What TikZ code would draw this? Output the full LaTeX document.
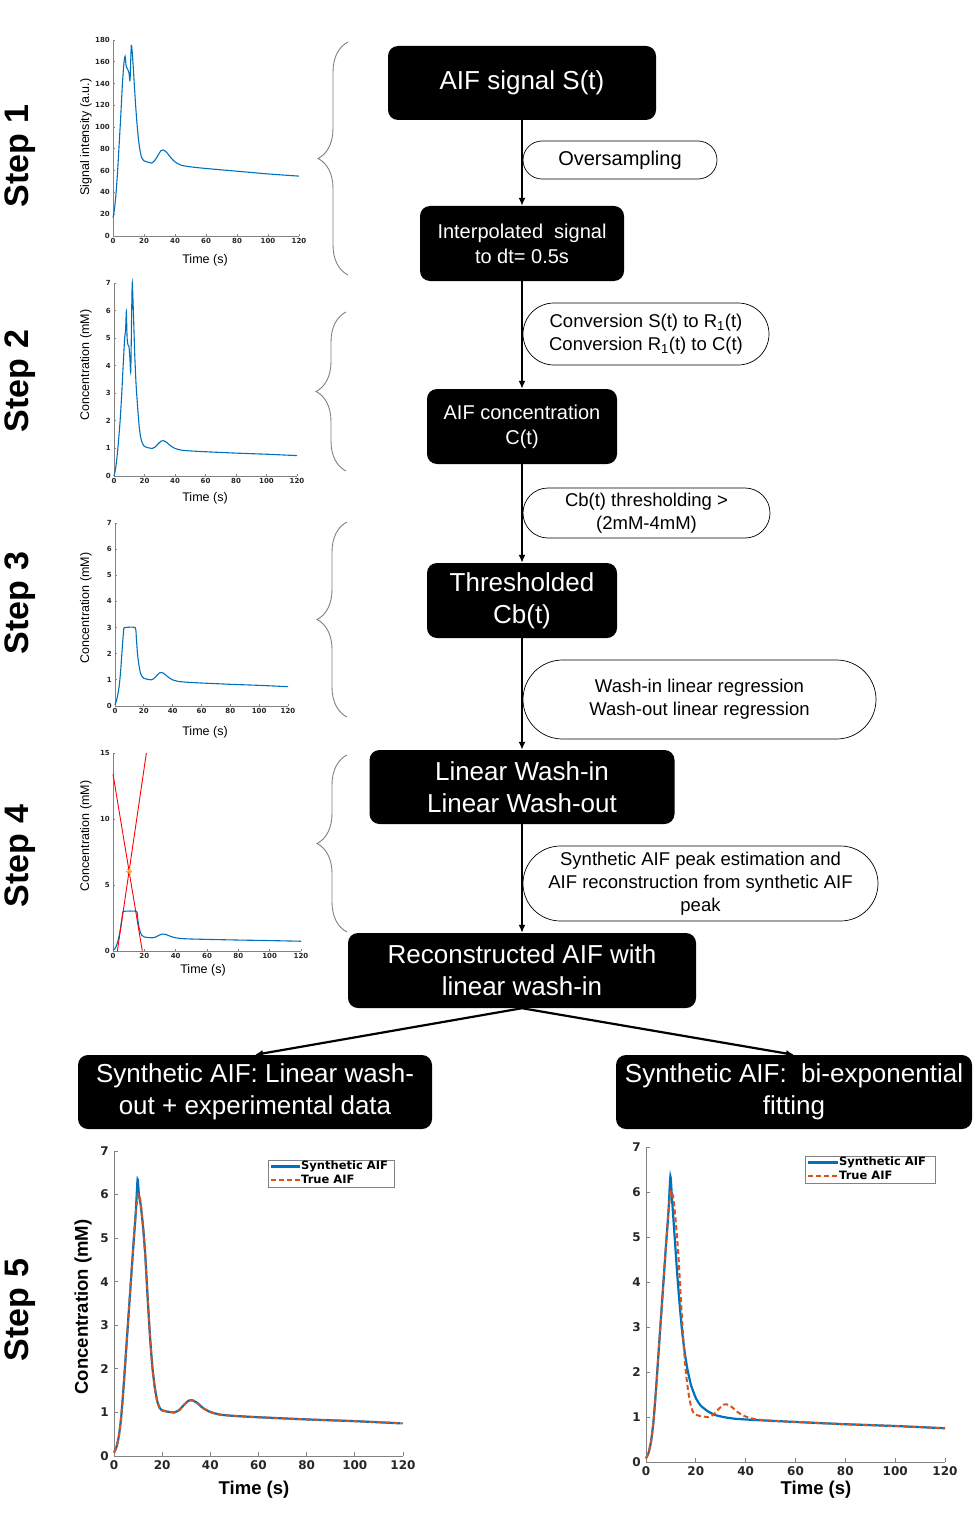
\documentclass[tikz,border=0pt]{standalone}
\usepackage{fontspec}
\setmainfont{Liberation Sans}
\newfontfamily\plotfont{DejaVu Sans}
\usepackage{tikz}
\usetikzlibrary{
    arrows.meta,
    shapes.misc,
    decorations.pathreplacing,
    positioning
}
\definecolor{matblue}{RGB}{0,114,189}
\definecolor{matorange}{RGB}{217,83,25}
\definecolor{matyellow}{RGB}{237,177,32}
\definecolor{axisgray}{RGB}{130,130,130}
\definecolor{ticktext}{RGB}{38,38,38}
\newcommand{\bigtext}{\fontsize{26}{32}\selectfont}
\newcommand{\midtext}{\fontsize{20}{25}\selectfont}
\newcommand{\notetext}{\fontsize{18.5}{23}\selectfont}

\begin{document}
\begin{tikzpicture}[x=1pt, y=-1pt,
    stagebox/.style={fill=black, text=white, rounded corners=10pt, align=center, inner sep=2pt},
    notebox/.style={draw=black, line width=0.7pt, fill=white, rounded rectangle, align=center, inner sep=1pt},
    flow/.style={line width=1.8pt, -{Latex[length=8pt, width=7pt]}},
    steplabel/.style={rotate=90, font=\fontsize{34}{40}\selectfont\bfseries},
    gbrace/.style={draw=gray, line width=0.9pt, decorate, decoration={brace, amplitude=30pt}},
    axisline/.style={draw=axisgray, line width=0.8pt},
    smalltick/.style={text=ticktext, inner sep=1pt, font=\plotfont\bfseries\fontsize{7}{8}\selectfont},
    bigtick/.style={text=ticktext, inner sep=1pt, font=\plotfont\bfseries\fontsize{12}{13}\selectfont},
    smalllabel/.style={inner sep=1pt, font=\fontsize{12.5}{14}\selectfont},
    biglabel/.style={inner sep=1pt, font=\fontsize{18.5}{20}\selectfont\bfseries},
    legendtext/.style={inner sep=1pt, anchor=west, font=\plotfont\bfseries\fontsize{11.5}{12}\selectfont},
    aifline/.style={draw=matblue, line width=1.1pt},
    synline/.style={draw=matblue, line width=2.2pt},
    trueline/.style={draw=matorange, line width=2pt, dash pattern=on 5pt off 3pt},
    washline/.style={draw=red, line width=0.9pt},
    starline/.style={draw=matyellow, line width=0.9pt}
]
\useasboundingbox (0,0) rectangle (978,1514);

% step labels
\node[steplabel] (lab1) at (20,156) {Step 1};
\node[steplabel] (lab2) at (20,381) {Step 2};
\node[steplabel] (lab3) at (20,603) {Step 3};
\node[steplabel] (lab4) at (20,856) {Step 4};
\node[steplabel] (lab5) at (20,1310) {Step 5};

% braces
\draw[gbrace] (348,275) -- (348,42);
\draw[gbrace] (346,471) -- (346,312);
\draw[gbrace] (347,717) -- (347,522);
\draw[gbrace] (347,932) -- (347,755);

% flow chart
\node[stagebox, minimum width=268pt, minimum height=74pt, font=\bigtext] (sig) at (522,83) {AIF signal S(t)};
\node[stagebox, minimum width=204pt, minimum height=75pt, font=\midtext] (interp) at (522,243.5) {Interpolated\ \ signal\\to dt= 0.5s};
\node[stagebox, minimum width=190pt, minimum height=75pt, font=\midtext] (conc) at (522,426.5) {AIF concentration\\C(t)};
\node[stagebox, minimum width=190pt, minimum height=75pt, font=\bigtext] (thr) at (522,600.5) {Thresholded\\Cb(t)};
\node[stagebox, minimum width=305pt, minimum height=74pt, font=\bigtext] (lin) at (522,787) {Linear Wash-in\\Linear Wash-out};
\node[stagebox, minimum width=348pt, minimum height=75pt, font=\bigtext] (rec) at (522,970.5) {Reconstructed AIF with\\linear wash-in};
\node[stagebox, minimum width=354pt, minimum height=74pt, font=\bigtext] (synl) at (255,1092) {Synthetic AIF: Linear wash-\\out + experimental data};
\node[stagebox, minimum width=356pt, minimum height=74pt, font=\bigtext] (synr) at (794,1092) {Synthetic AIF:\ \ bi-exponential\\fitting};

\node[notebox, minimum width=196pt, minimum height=38pt, font=\fontsize{20}{24}\selectfont] (ovs) at (620,160) {Oversampling};
\node[notebox, minimum width=248pt, minimum height=62pt, font=\notetext] (cnv) at (646,334) {Conversion S(t) to R\textsubscript{1}(t)\\Conversion R\textsubscript{1}(t) to C(t)};
\node[notebox, minimum width=249pt, minimum height=50pt, font=\notetext] (thn) at (646.5,513) {Cb(t) thresholding >\\(2mM-4mM)};
\node[notebox, minimum width=355pt, minimum height=79pt, font=\notetext] (reg) at (699.5,699.5) {Wash-in linear regression\\Wash-out linear regression};
\node[notebox, minimum width=357pt, minimum height=75pt, font=\notetext] (pk) at (700.5,883.5) {Synthetic AIF peak estimation and\\AIF reconstruction from synthetic AIF\\peak};

\draw[flow] (sig.south) -- (interp.north);
\draw[flow] (interp.south) -- (conc.north);
\draw[flow] (conc.south) -- (thr.north);
\draw[flow] (thr.south) -- (lin.north);
\draw[flow] (lin.south) -- (rec.north);
\draw[flow, line width=2.2pt] (rec.south) -- (synl.north);
\draw[flow, line width=2.2pt] (rec.south) -- (synr.north);

% step 1 plot
\begin{scope}[shift={(113,236)}, x=1.55pt, y=1.0889pt]
    \draw[axisline] (0,180) -- (0,0) -- (120,0);
    \foreach \t in {0,20,...,120} {
        \draw[axisline] (\t,0) -- ++(0,2pt);
        \node[smalltick, anchor=north, yshift=-1pt] (p1x\t) at (\t,0) {\t};
    }
    \foreach \v in {0,20,...,180} {
        \draw[axisline] (0,\v) -- ++(2pt,0);
        \node[smalltick, anchor=east, xshift=-2pt] (p1y\v) at (0,\v) {\v};
    }
    \draw[aifline] plot[smooth, tension=0.4] coordinates {(0,17) (1,25) (2,40) (3,60) (4,85) (5,110) (6,138) (7,158) (7.8,165) (8.5,156) (9.5,153) (10.3,150) (11,143) (11.8,175) (12.6,165) (13.5,145) (14.5,122) (15.5,103) (16.5,88) (17.5,78) (18.5,72) (20,69) (22,68) (25,67) (27,69.5) (29,74) (31,78.5) (32.5,79) (34.5,77) (37,72.5) (40,68) (44,65) (50,63.5) (60,62) (80,59.5) (100,57) (120,55)};
\end{scope}
\node[smalllabel, rotate=90] (p1ylab) at (86,137) {Signal intensity (a.u.)};
\node[smalllabel] (p1xlab) at (205,260) {Time (s)};

% step 2 plot
\begin{scope}[shift={(114,476)}, x=1.525pt, y=27.57pt]
    \draw[axisline] (0,7) -- (0,0) -- (120,0);
    \foreach \t in {0,20,...,120} {
        \draw[axisline] (\t,0) -- ++(0,2pt);
        \node[smalltick, anchor=north, yshift=-1pt] (p2x\t) at (\t,0) {\t};
    }
    \foreach \v in {0,...,7} {
        \draw[axisline] (0,\v) -- ++(2pt,0);
        \node[smalltick, anchor=east, xshift=-2pt] (p2y\v) at (0,\v) {\v};
    }
    \draw[aifline] plot[smooth, tension=0.4] coordinates {(0,0) (1,0.25) (2,0.7) (3,1.3) (4,2) (5,2.9) (6,4) (7,5) (7.6,5.3) (8.1,5.95) (8.6,5.0) (9.2,4.75) (9.8,4.7) (10.4,4.3) (11,3.8) (11.6,6.0) (12,7) (12.8,5.8) (13.6,4.4) (14.5,3.3) (15.5,2.5) (16.5,1.8) (17.5,1.4) (18.5,1.2) (20,1.07) (22,1.03) (25,1.0) (27,1.05) (29,1.17) (31,1.27) (32.5,1.28) (34.5,1.22) (37,1.1) (40,1.0) (44,0.94) (50,0.91) (60,0.88) (80,0.83) (100,0.79) (120,0.74)};
\end{scope}
\node[smalllabel, rotate=90] (p2ylab) at (86,365) {Concentration (mM)};
\node[smalllabel] (p2xlab) at (205,498) {Time (s)};

% step 3 plot
\begin{scope}[shift={(115,706)}, x=1.4417pt, y=26.14pt]
    \draw[axisline] (0,7) -- (0,0) -- (120,0);
    \foreach \t in {0,20,...,120} {
        \draw[axisline] (\t,0) -- ++(0,2pt);
        \node[smalltick, anchor=north, yshift=-1pt] (p3x\t) at (\t,0) {\t};
    }
    \foreach \v in {0,...,7} {
        \draw[axisline] (0,\v) -- ++(2pt,0);
        \node[smalltick, anchor=east, xshift=-2pt] (p3y\v) at (0,\v) {\v};
    }
    \draw[aifline] plot[smooth, tension=0.3] coordinates {(0,0.05) (1,0.2) (2,0.45) (3,0.8) (4,1.4) (5,2.2) (6,2.9) (6.6,3) (14,3) (14.8,2.6) (15.6,2) (16.5,1.6) (17.5,1.3) (18.5,1.15) (20,1.06) (22,1.03) (25,1.0) (27,1.05) (29,1.17) (31,1.27) (32.5,1.28) (34.5,1.22) (37,1.1) (40,1.0) (44,0.94) (50,0.91) (60,0.88) (80,0.83) (100,0.79) (120,0.74)};
\end{scope}
\node[smalllabel, rotate=90] (p3ylab) at (86,608) {Concentration (mM)};
\node[smalllabel] (p3xlab) at (205,732) {Time (s)};

% step 4 plot
\begin{scope}[shift={(113,951)}, x=1.5667pt, y=13.2pt]
    \draw[axisline] (0,15) -- (0,0) -- (120,0);
    \foreach \t in {0,20,...,120} {
        \draw[axisline] (\t,0) -- ++(0,2pt);
        \node[smalltick, anchor=north, yshift=-1pt] (p4x\t) at (\t,0) {\t};
    }
    \foreach \v in {0,5,10,15} {
        \draw[axisline] (0,\v) -- ++(2pt,0);
        \node[smalltick, anchor=east, xshift=-2pt] (p4y\v) at (0,\v) {\v};
    }
    \draw[aifline] plot[smooth, tension=0.3] coordinates {(0,0.05) (1,0.15) (2,0.35) (3,0.7) (4,1.2) (5,1.9) (6,2.7) (6.5,3) (15,3) (15.8,2.4) (16.6,1.8) (17.5,1.4) (18.5,1.18) (20,1.06) (22,1.03) (25,1.0) (27,1.05) (29,1.17) (31,1.27) (32.5,1.28) (34.5,1.22) (37,1.1) (40,1.0) (44,0.94) (50,0.91) (60,0.88) (80,0.83) (100,0.79) (120,0.74)};
    \draw[washline] (2.8,0) -- (21.3,15);
    \draw[washline] (0,13.4) -- (18.7,0);
    \coordinate (star) at (10.26,6.05);
    \foreach \a in {0,45,90,135}
        \draw[starline] (star) ++(\a:3pt) -- ++(\a+180:6pt);
\end{scope}
\node[smalllabel, rotate=90] (p4ylab) at (86,836) {Concentration (mM)};
\node[smalllabel] (p4xlab) at (203,970) {Time (s)};

% step 5 left plot
\begin{scope}[shift={(114,1456)}, x=2.408pt, y=43.57pt]
    \draw[axisline] (0,7) -- (0,0) -- (120,0);
    \foreach \t in {0,20,...,120} {
        \draw[axisline] (\t,0) -- ++(0,4pt);
        \node[bigtick, anchor=north, yshift=-3pt] (p5lx\t) at (\t,0) {\t};
    }
    \foreach \v in {0,...,7} {
        \draw[axisline] (0,\v) -- ++(4pt,0);
        \node[bigtick, anchor=east, xshift=-4pt] (p5ly\v) at (0,\v) {\v};
    }
    \draw[synline] plot[smooth, tension=0.3] coordinates {(0,0.08) (1,0.2) (2,0.45) (3,0.9) (4,1.6) (5,2.4) (6,3.2) (7,4.0) (8,4.8) (9,5.55) (9.8,6.35) (10.4,5.95) (11,5.8) (12,5.3) (13,4.6) (14,3.6) (15,2.7) (16,2.0) (17,1.55) (18,1.25) (19,1.1) (20,1.05) (22,1.02) (25,1.0) (27,1.05) (29,1.17) (31,1.27) (32.5,1.28) (34.5,1.22) (37,1.1) (40,1.01) (44,0.95) (50,0.92) (60,0.89) (80,0.84) (100,0.8) (119,0.75)};
    \draw[trueline] plot[smooth, tension=0.4] coordinates {(0,0.08) (1,0.2) (2,0.45) (3,0.9) (4,1.6) (5,2.4) (6,3.2) (7,4.0) (8,4.8) (9,5.55) (10,6.02) (11,5.85) (12,5.3) (13,4.6) (14,3.6) (15,2.7) (16,2.0) (17,1.55) (18,1.25) (19,1.1) (20,1.05) (22,1.02) (25,1.0) (27,1.05) (29,1.17) (31,1.27) (32.5,1.28) (34.5,1.22) (37,1.1) (40,1.01) (44,0.95) (50,0.92) (60,0.89) (80,0.84) (100,0.8) (120,0.75)};
\end{scope}
\node[biglabel, rotate=90] (p5lylab) at (83,1307) {Concentration (mM)};
\node[biglabel] (p5lxlab) at (254,1490) {Time (s)};
\draw[draw=axisgray, line width=0.7pt] (268,1160) rectangle (394,1187);
\draw[synline] (271,1166.5) -- (300,1166.5);
\node[legendtext] (lgl1) at (300,1166.5) {Synthetic AIF};
\draw[trueline] (271,1179.5) -- (300,1179.5);
\node[legendtext] (lgl2) at (300,1179.5) {True AIF};

% step 5 right plot
\begin{scope}[shift={(646,1462)}, x=2.4917pt, y=45pt]
    \draw[axisline] (0,7) -- (0,0) -- (120,0);
    \foreach \t in {0,20,...,120} {
        \draw[axisline] (\t,0) -- ++(0,4pt);
        \node[bigtick, anchor=north, yshift=-3pt] (p5rx\t) at (\t,0) {\t};
    }
    \foreach \v in {0,...,7} {
        \draw[axisline] (0,\v) -- ++(4pt,0);
        \node[bigtick, anchor=east, xshift=-4pt] (p5ry\v) at (0,\v) {\v};
    }
    \draw[synline] plot[smooth, tension=0.3] coordinates {(0,0.08) (1,0.2) (2,0.45) (3,0.9) (4,1.6) (5,2.4) (6,3.2) (7,4.0) (8,4.8) (9,5.55) (9.8,6.35) (10.5,5.8) (11.5,5.0) (12.5,4.2) (13.5,3.5) (14.5,2.9) (15.5,2.45) (16.5,2.1) (18,1.72) (20,1.42) (22,1.25) (25,1.12) (28,1.04) (32,0.99) (36,0.96) (45,0.93) (60,0.89) (80,0.84) (100,0.8) (120,0.75)};
    \draw[trueline] plot[smooth, tension=0.4] coordinates {(0,0.08) (1,0.2) (2,0.45) (3,0.9) (4,1.6) (5,2.4) (6,3.2) (7,4.0) (8,4.8) (9,5.55) (10,6.02) (11,5.85) (12,5.3) (13,4.6) (14,3.6) (15,2.7) (16,2.0) (17,1.55) (18,1.25) (19,1.1) (20,1.05) (22,1.02) (25,1.0) (27,1.05) (29,1.17) (31,1.27) (32.5,1.28) (34.5,1.22) (37,1.1) (40,1.01) (44,0.95) (50,0.92) (60,0.89) (80,0.84) (100,0.8) (120,0.75)};
\end{scope}
\node[biglabel] (p5rxlab) at (816,1490) {Time (s)};
\draw[draw=axisgray, line width=0.7pt] (805,1156) rectangle (935,1183);
\draw[synline] (808,1162.5) -- (838,1162.5);
\node[legendtext] (lgr1) at (838,1162.5) {Synthetic AIF};
\draw[trueline] (808,1175.5) -- (838,1175.5);
\node[legendtext] (lgr2) at (838,1175.5) {True AIF};
\end{tikzpicture}
\end{document}
